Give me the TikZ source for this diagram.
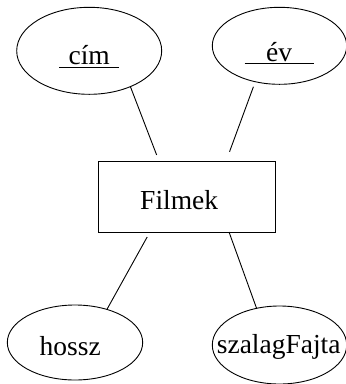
\documentclass[tikz,border=0pt]{standalone}
\usepackage{fontspec}
\setmainfont{Liberation Serif}
\usepackage{tikz}
\usetikzlibrary{shapes.geometric}
\tikzset{%
  % Specifications for style of nodes:
        base/.style = {draw=black, line width=0.9pt, inner sep=0pt,
                       outer sep=0pt},
      entity/.style = {base, rectangle, minimum width=176.7pt,
                       minimum height=71pt},
        attr/.style = {base, ellipse},
         txt/.style = {anchor=base, inner sep=0pt,
                       font=\fontsize{27.5}{32}\selectfont}
}

\begin{document}
\begin{tikzpicture}[x=1pt, y=-1pt, line width=0.9pt]
  \useasboundingbox (0,0) rectangle (346,384);
  % Specification of nodes (position, etc.)
  \node (filmek) [entity] at (186.7,196.5) {};
  \node (cim)    [attr, minimum width=145pt, minimum height=87pt] at (89.2,50.8) {};
  \node (ev)     [attr, minimum width=134.4pt, minimum height=77pt] at (279.5,45.8) {};
  \node (hossz)  [attr, minimum width=135.4pt, minimum height=75pt] at (75,342.5) {};
  \node (szalag) [attr, minimum width=134.4pt, minimum height=78pt] at (279.5,345) {};

  % Texts
  \node (filmektxt) [txt] at (179.2,209.3) {Filmek};
  \node (cimtxt)    [txt] at (89.2,64.3)
        {\underline{\hspace{9.3pt}cím\rule[-1.5pt]{0pt}{0pt}\hspace{9.3pt}}};
  \node (evtxt)     [txt] at (279.2,61)
        {\underline{\hspace{21.6pt}év\rule[-0.8pt]{0pt}{0pt}\hspace{21.6pt}}};
  \node (hossztxt)  [txt] at (70.3,355)    {hossz};
  \node (szalagtxt) [txt] at (278.7,353.3) {szalagFajta};

  \draw[shorten >=6.5pt] (cim.-41.6) edge (filmek.128.9);
  \draw[shorten <=5.4pt, shorten >=9.9pt] (ev.-124.6) edge (filmek.42.9);
  \draw[shorten <=5.7pt] (filmek.-136.2) edge (hossz.46.3);
  \draw (filmek.-40.7) edge (szalag.122.4);
\end{tikzpicture}
\end{document}
